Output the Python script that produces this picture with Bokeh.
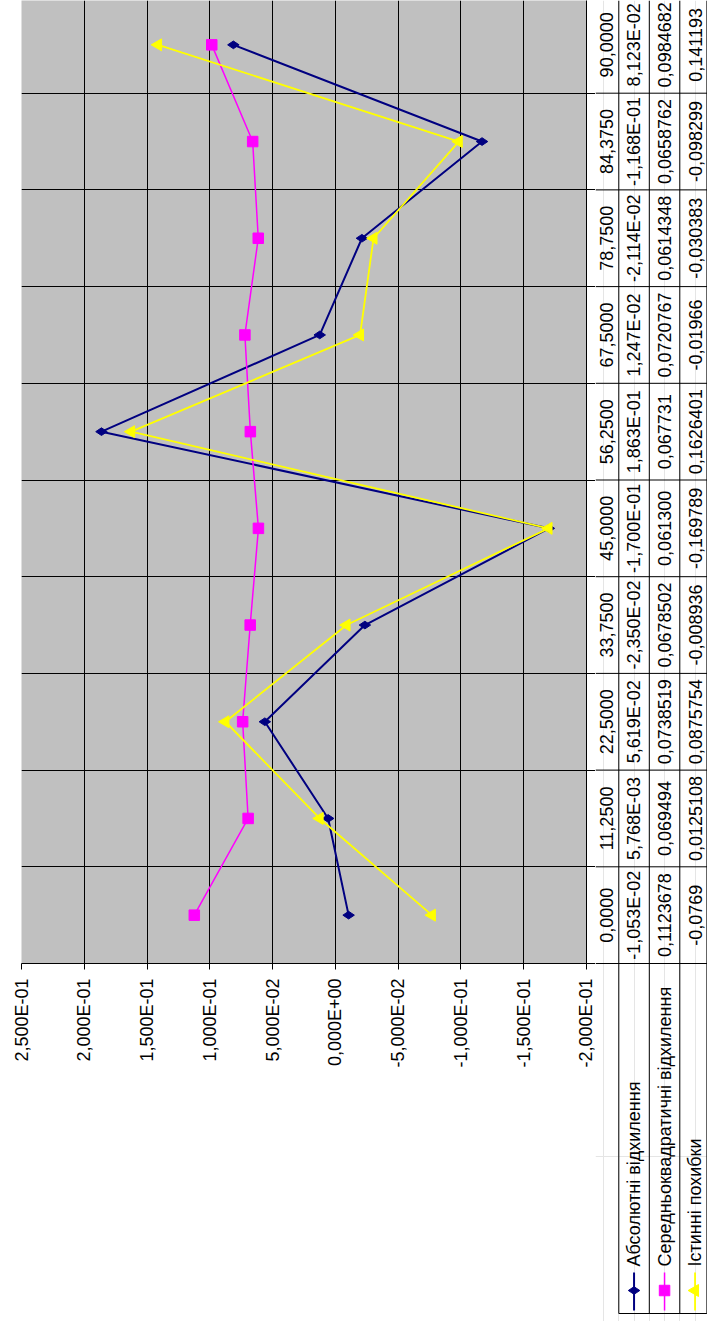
import math
from bokeh.plotting import figure
from bokeh.models import (Range1d, LinearAxis, FixedTicker, Grid,
                          CustomJSTickFormatter, ColumnDataSource)
from bokeh.layouts import row
from bokeh.embed import file_html
from bokeh.resources import INLINE
from bokeh.core.properties import value

# ---------------- data ----------------
categories = ["0,0000", "11,2500", "22,5000", "33,7500", "45,0000",
              "56,2500", "67,5000", "78,7500", "84,3750", "90,0000"]
series_names = ["Абсолютні відхилення",
                "Середньоквадратичні відхилення",
                "Істинні похибки"]
abs_dev = [-1.053e-02, 5.768e-03, 5.619e-02, -2.350e-02, -1.700e-01,
           1.863e-01, 1.247e-02, -2.114e-02, -1.168e-01, 8.123e-02]
rms_dev = [0.1123678, 0.069494, 0.0738519, 0.0678502, 0.061300,
           0.067731, 0.0720767, 0.0614348, 0.0658762, 0.0984682]
true_err = [-0.0769, 0.0125108, 0.0875754, -0.008936, -0.169789,
            0.1626401, -0.01966, -0.030383, -0.098299, 0.141193]
abs_text = ["-1,053E-02", "5,768E-03", "5,619E-02", "-2,350E-02", "-1,700E-01",
            "1,863E-01", "1,247E-02", "-2,114E-02", "-1,168E-01", "8,123E-02"]
rms_text = ["0,1123678", "0,069494", "0,0738519", "0,0678502", "0,061300",
            "0,067731", "0,0720767", "0,0614348", "0,0658762", "0,0984682"]
true_text = ["-0,0769", "0,0125108", "0,0875754", "-0,008936", "-0,169789",
             "0,1626401", "-0,01966", "-0,030383", "-0,098299", "0,141193"]
value_ticks = [0.25, 0.2, 0.15, 0.1, 0.05, 0.0, -0.05, -0.1, -0.15, -0.2]
value_tick_labels = ["2,500E-01", "2,000E-01", "1,500E-01", "1,000E-01", "5,000E-02",
                     "0,000E+00", "-5,000E-02", "-1,000E-01", "-1,500E-01", "-2,000E-01"]

# ---------------- layout / style (page pixels) ----------------
W, H = 707, 1321
BAND = 96.7          # px per category band
FRAME_H = 963        # plot area bottom (value axis) in px
PLOT_LEFT = 21
PLOT_W = 565
RIGHT_PAD = 9        # part of the category column inside the left figure
TABLE_X0 = 618.3     # left border of first data column
COL_W = 30.5
CAT_CENTER = 606.0   # centre of category labels
LEFT_W = PLOT_LEFT + PLOT_W + RIGHT_PAD
RIGHT_W = W - LEFT_W
FONT = "Liberation Sans"
FS = "18px"
NAVY, MAGENTA, YELLOW = "#000080", "#FF00FF", "#FFFF00"
PLOT_BG = "#C0C0C0"

u_top = FRAME_H / BAND
def u(py):
    return (FRAME_H - py) / BAND
def cx(px):
    return (px - TABLE_X0) / COL_W

n = len(categories)
centers = [i + 0.5 for i in range(n)]
bounds = list(range(n + 1))

# ---------------- main plot ----------------
pL = figure(width=LEFT_W, height=H, output_backend="svg", toolbar_location=None,
            x_range=Range1d(max(value_ticks), min(value_ticks)),
            y_range=Range1d(0, u_top),
            x_axis_location=None, y_axis_location=None,
            min_border_left=PLOT_LEFT, min_border_right=RIGHT_PAD,
            min_border_top=0, min_border_bottom=H - FRAME_H,
            background_fill_color=PLOT_BG, border_fill_color="white",
            outline_line_color=None)

xax = LinearAxis(
    ticker=FixedTicker(ticks=value_ticks),
    formatter=CustomJSTickFormatter(
        args=dict(vt=value_ticks, vl=value_tick_labels),
        code="""
        let b = 0;
        for (let i = 0; i < vt.length; i++) {
            if (Math.abs(vt[i] - tick) < Math.abs(vt[b] - tick)) b = i;
        }
        return vl[b];"""),
    major_label_orientation=math.pi / 2,
    major_tick_out=6, major_tick_in=0, minor_tick_out=0, minor_tick_in=0,
    major_label_standoff=9,
    major_label_text_font=FONT, major_label_text_font_size=FS,
    major_label_text_color="black",
    axis_line_color="black", major_tick_line_color="black")
pL.add_layout(xax, "below")

# category axis line + row separators in the category column
yax = LinearAxis(
    ticker=FixedTicker(ticks=centers, minor_ticks=bounds),
    formatter=CustomJSTickFormatter(code="return '';"),
    major_tick_out=0, major_tick_in=0,
    minor_tick_out=RIGHT_PAD, minor_tick_in=0, minor_tick_line_color="black",
    major_label_standoff=0, major_label_text_font_size="0px",
    axis_line_color="black")
pL.add_layout(yax, "right")

pL.add_layout(Grid(dimension=0, ticker=FixedTicker(ticks=value_ticks),
                   grid_line_color="black", grid_line_width=1))
pL.add_layout(Grid(dimension=1, ticker=FixedTicker(ticks=bounds),
                   grid_line_color="black", grid_line_width=1))

pL.line(abs_dev, centers, line_color=NAVY, line_width=2)
pL.scatter(abs_dev, centers, marker="diamond", size=11.5, angle=math.pi / 2,
           fill_color=NAVY, line_color=NAVY)
pL.line(rms_dev, centers, line_color=MAGENTA, line_width=1.5)
pL.scatter(rms_dev, centers, marker="square", size=10.5,
           fill_color=MAGENTA, line_color=MAGENTA)
pL.line(true_err, centers, line_color=YELLOW, line_width=1.8)
pL.scatter(true_err, centers, marker="triangle", size=12, angle=math.pi / 2,
           fill_color=YELLOW, line_color=YELLOW)

# ---------------- data table ----------------
xr0 = cx(LEFT_W)
xr1 = cx(W)
u_bot = u(1313)
pR = figure(width=RIGHT_W, height=H, output_backend="svg", toolbar_location=None,
            x_range=Range1d(xr0, xr1),
            y_range=Range1d(u(H), u_top),
            x_axis_location=None, y_axis_location=None,
            min_border=0, outline_line_color=None,
            background_fill_color="white", border_fill_color="white")

for fig in (pL, pR):
    if "frame_align" in fig.properties():
        fig.frame_align = False

ns = len(series_names)
cols = list(range(ns)) + [xr1 - 0.6 / COL_W]
pR.segment(x0=cols, y0=[u_bot] * len(cols), x1=cols, y1=[u_top] * len(cols),
           line_color="black", line_width=1)
pR.segment(x0=[xr0] * n, y0=bounds[:n], x1=[xr1] * n, y1=bounds[:n],
           line_color="black", line_width=1)
pR.segment(x0=[0], y0=[u_bot], x1=[cols[-1]], y1=[u_bot],
           line_color="black", line_width=1)

# category labels
pR.text(x=[cx(CAT_CENTER)] * n, y=centers, text=categories, angle=math.pi / 2,
        text_align="center", text_baseline="middle",
        text_font=value(FONT), text_font_size=FS, text_color="black")

texts = [abs_text, rms_text, true_text]
tx, ty, tt = [], [], []
for j, col in enumerate(texts):
    for i, s in enumerate(col):
        tx.append(j + 0.5)
        ty.append(centers[i])
        tt.append(s)
pR.text(x="x", y="y", text="t", source=ColumnDataSource(dict(x=tx, y=ty, t=tt)),
        angle=math.pi / 2, text_align="center", text_baseline="middle",
        text_font=value(FONT), text_font_size=FS, text_color="black")

# legend keys (series name cells)
kx = [j + 0.5 for j in range(ns)]
pR.segment(x0=kx, y0=[u(1272)] * ns, x1=kx, y1=[u(1310)] * ns,
           line_color=[NAVY, MAGENTA, YELLOW], line_width=[2, 1.5, 1.8])
pR.scatter(x=[kx[0]], y=[u(1290)], marker="diamond", size=11.5, angle=math.pi / 2,
           fill_color=NAVY, line_color=NAVY)
pR.scatter(x=[kx[1]], y=[u(1290)], marker="square", size=10.5,
           fill_color=MAGENTA, line_color=MAGENTA)
pR.scatter(x=[kx[2]], y=[u(1290)], marker="triangle", size=12, angle=math.pi / 2,
           fill_color=YELLOW, line_color=YELLOW)
pR.text(x=kx, y=[u(1266)] * ns, text=series_names, angle=math.pi / 2,
        text_align="left", text_baseline="middle",
        text_font=value(FONT), text_font_size=FS, text_color="black")

layout = row(pL, pR)
open("out.html", "w").write(file_html(layout, INLINE))
